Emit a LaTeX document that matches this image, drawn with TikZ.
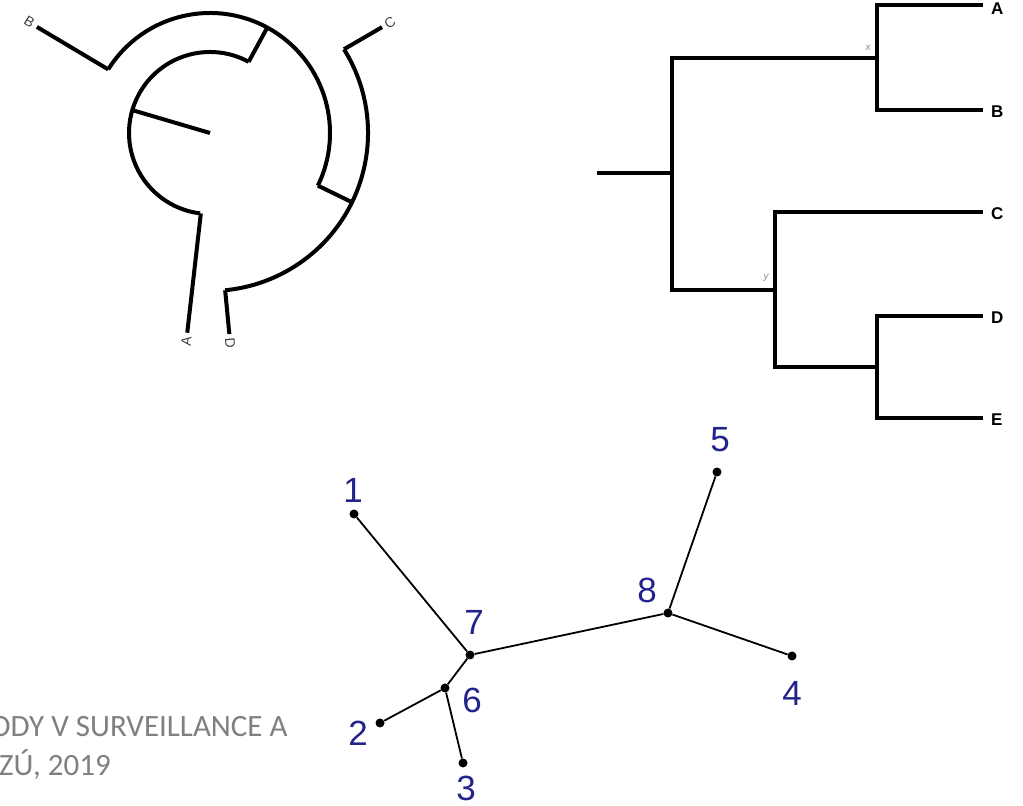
\documentclass[tikz,border=0pt]{standalone}
\usepackage{fontspec}
\setmainfont{Liberation Sans}
\newfontfamily\footfont{Carlito}
\definecolor{numblue}{RGB}{35,35,140}
\definecolor{footgray}{RGB}{128,128,128}
\begin{document}
\begin{tikzpicture}[x=1pt,y=1pt,
  circbranch/.style={line width=4pt},
  rectbranch/.style={line width=4pt},
  unbranch/.style={line width=1.8pt},
  dot/.style={circle,fill=black,inner sep=0pt,minimum size=9pt},
  circlabel/.style={font=\fontsize{14}{14}\selectfont,text=black!75,inner sep=0pt},
  rectlabel/.style={font=\fontsize{17}{17}\selectfont\bfseries,inner sep=0pt,anchor=west},
  nodelabel/.style={font=\fontsize{10}{10}\selectfont\itshape,text=black!45,inner sep=0pt},
  numlabel/.style={font=\fontsize{35}{35}\selectfont,text=numblue,inner sep=0pt},
  footlabel/.style={font=\footfont\fontsize{31}{31}\selectfont,text=footgray,inner sep=0pt,anchor=west}]
\useasboundingbox (0,0) rectangle (1023,806);
\begin{scope}[shift={(0,806)}]
% ---------- circular tree ----------
\begin{scope}[shift={(210,-133)}]
  \coordinate (c0) at (0,0);
  \coordinate (croot) at (163.6:81);
  \coordinate (ci1) at (61.5:81);
  \coordinate (ci2) at (263:81);
  \coordinate (cm1) at (61.5:120);
  \coordinate (cm2) at (148:120);
  \coordinate (cm3) at (-26:120);
  \coordinate (co1) at (-26:158);
  \coordinate (co2) at (32:158);
  \coordinate (co3) at (-84.5:158);
  \coordinate (cA0) at (263.5:81);
  \coordinate (cA) at (263.5:201);
  \coordinate (cB) at (148.5:203);
  \coordinate (cC) at (31.6:202);
  \coordinate (cD) at (-84.5:202);
  \draw[circbranch] (c0) -- (croot);
  \draw[circbranch] (ci1) arc[start angle=61.5,end angle=263,radius=81];
  \draw[circbranch] (ci1) -- (cm1);
  \draw[circbranch] (cm2) arc[start angle=148,end angle=-26,radius=120];
  \draw[circbranch] (cm3) -- (co1);
  \draw[circbranch] (co2) arc[start angle=32,end angle=-84.5,radius=158];
  \draw[circbranch] (cA0) -- (cA);
  \draw[circbranch] (cm2) -- (cB);
  \draw[circbranch] (co2) -- (cC);
  \draw[circbranch] (co3) -- (cD);
  \node[circlabel,anchor=east,rotate=83.5] (lA) at (263.5:205) {A};
  \node[circlabel,anchor=east,rotate=-31.5] (lB) at (148.5:207) {B};
  \node[circlabel,anchor=west,rotate=31.6] (lC) at (31.6:206) {C};
  \node[circlabel,anchor=west,rotate=-84.5] (lD) at (-84.5:206) {D};
\end{scope}
% ---------- rectangular tree ----------
\coordinate (r0) at (597,-173);
\coordinate (r) at (672,-173);
\coordinate (rt) at (672,-58);
\coordinate (rb) at (672,-290);
\coordinate (nx) at (877,-58);
\coordinate (xa) at (877,-5);
\coordinate (xb) at (877,-110);
\coordinate (ta) at (983,-5);
\coordinate (tb) at (983,-110);
\coordinate (ny) at (775,-290);
\coordinate (yc) at (775,-212);
\coordinate (yd) at (775,-367);
\coordinate (tc) at (983,-212);
\coordinate (nz) at (877,-367);
\coordinate (zd) at (877,-316);
\coordinate (ze) at (877,-418);
\coordinate (td) at (983,-316);
\coordinate (te) at (983,-418);
\draw[rectbranch] (r0) -- (r);
\draw[rectbranch] (nx) -- (rt) -- (rb) -- (ny);
\draw[rectbranch] (ta) -- (xa) -- (xb) -- (tb);
\draw[rectbranch] (tc) -- (yc) -- (yd) -- (nz);
\draw[rectbranch] (td) -- (zd) -- (ze) -- (te);
\node[rectlabel] (la) at (991,-9) {A};
\node[rectlabel] (lb) at (991,-112) {B};
\node[rectlabel] (lc) at (991,-214) {C};
\node[rectlabel] (ld) at (991,-318) {D};
\node[rectlabel] (le) at (991,-420) {E};
\node[nodelabel] (lx) at (868,-48) {x};
\node[nodelabel] (ly) at (766,-278) {y};
% ---------- unrooted tree ----------
\node[dot] (u1) at (354,-514) {};
\node[dot] (u2) at (380,-723) {};
\node[dot] (u3) at (463,-763) {};
\node[dot] (u4) at (792,-656) {};
\node[dot] (u5) at (717,-472) {};
\node[dot] (u6) at (445,-688) {};
\node[dot] (u7) at (470,-655) {};
\node[dot] (u8) at (668,-613) {};
\draw[unbranch] (u1) -- (u7);
\draw[unbranch] (u7) -- (u6);
\draw[unbranch] (u6) -- (u2);
\draw[unbranch] (u6) -- (u3);
\draw[unbranch] (u7) -- (u8);
\draw[unbranch] (u8) -- (u5);
\draw[unbranch] (u8) -- (u4);
\node[numlabel] (n1) at (353,-490) {1};
\node[numlabel] (n2) at (358,-733) {2};
\node[numlabel] (n3) at (466,-788) {3};
\node[numlabel] (n4) at (792,-693) {4};
\node[numlabel] (n5) at (720,-440) {5};
\node[numlabel] (n6) at (472,-700) {6};
\node[numlabel] (n7) at (474,-622) {7};
\node[numlabel] (n8) at (647,-590) {8};
% ---------- footer ----------
\node[footlabel] (f1) at (-10,-727) {ODY V SURVEILLANCE A};
\node[footlabel] (f2) at (-1,-765) {ZÚ, 2019};
\end{scope}
\end{tikzpicture}
\end{document}
